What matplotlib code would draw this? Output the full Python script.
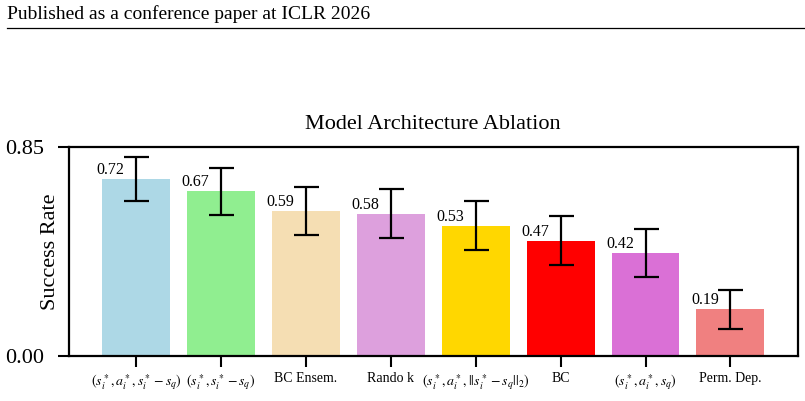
import numpy as np
import matplotlib
matplotlib.use('Agg')
import matplotlib.pyplot as plt
from matplotlib.lines import Line2D

plt.rcParams['font.family'] = ['Liberation Serif', 'DejaVu Serif']
plt.rcParams['mathtext.fontset'] = 'stix'

labels = [r'$(s_i^*, a_i^*, s_i^* - s_q)$', r'$(s_i^*, s_i^* - s_q)$', 'BC Ensem.', 'Rando k',
          r'$(s_i^*, a_i^*, ||s_i^* - s_q||_2)$', 'BC', r'$(s_i^*, a_i^*, s_q)$', 'Perm. Dep.']
success = [0.72, 0.67, 0.59, 0.58, 0.53, 0.47, 0.42, 0.19]
errors = [0.09, 0.094, 0.098, 0.099, 0.1, 0.1, 0.098, 0.078]
colors = ['lightblue', 'lightgreen', 'wheat', 'plum', 'gold', 'red', 'orchid', 'lightcoral']

fig = plt.figure(figsize=(8.05, 4.01), dpi=100)
ax = fig.add_axes([0.0857, 0.112, 0.905, 0.521])

x = np.arange(len(labels))
ax.bar(x, success, width=0.8, color=colors)
ax.errorbar(x, success, yerr=errors, fmt='none', ecolor='black',
            elinewidth=1.6, capsize=9, capthick=1.6)

for xi, v in zip(x, success):
    ax.text(xi - 0.3, v + 0.004, f'{v:.2f}', ha='center', va='bottom', fontsize=11.5)

ax.set_ylim(0, 0.85)
ax.set_yticks([0, 0.85])
ax.set_yticklabels(['0.00', '0.85'], fontsize=16)
ax.set_xticks(x)
ax.set_xticklabels(labels, fontsize=10)
ax.set_ylabel('Success Rate', fontsize=16)
ax.yaxis.set_label_coords(-0.012, 0.5)
ax.set_title('Model Architecture Ablation', fontsize=16, pad=13)
ax.tick_params(axis='both', length=8, width=1.5)
ax.tick_params(axis='y', pad=10)
for s in ax.spines.values():
    s.set_linewidth(1.6)

# page header
fig.text(0.009, 0.953, 'Published as a conference paper at ICLR 2026', fontsize=14,
         ha='left', va='baseline')
fig.add_artist(Line2D([0.009, 1.0], [0.930, 0.930], color='black', linewidth=0.9,
                      transform=fig.transFigure))

fig.savefig('out.png', dpi=100)
